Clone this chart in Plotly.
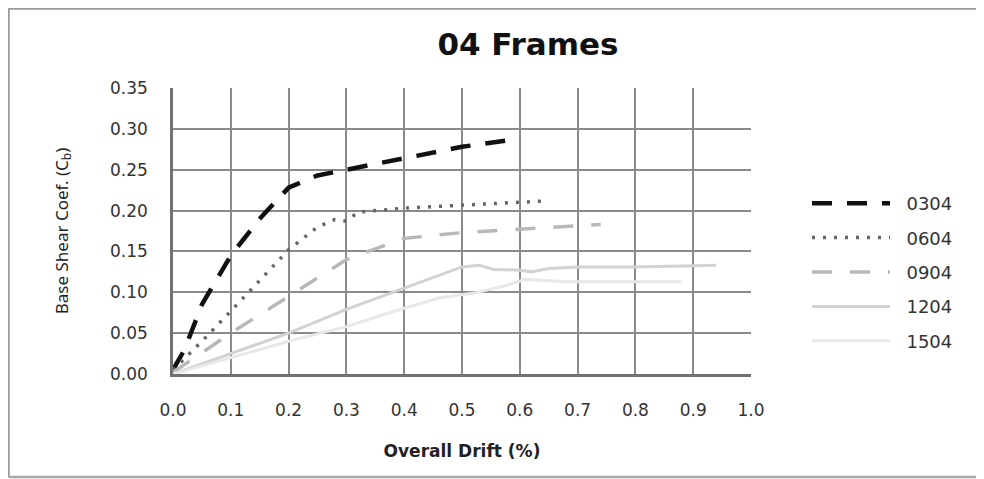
import plotly.graph_objects as go

# ---- data ----
series_names = ["0304", "0604", "0904", "1204", "1504"]

x_0304 = [0, 0.02, 0.05, 0.10, 0.15, 0.20, 0.25, 0.30, 0.40, 0.50, 0.60]
y_0304 = [0.005, 0.030, 0.085, 0.145, 0.190, 0.228, 0.243, 0.250, 0.264, 0.278, 0.288]

x_0604 = [0, 0.05, 0.10, 0.15, 0.20, 0.25, 0.28, 0.30, 0.32, 0.40, 0.50, 0.60, 0.65]
y_0604 = [0.005, 0.040, 0.077, 0.115, 0.152, 0.180, 0.189, 0.187, 0.198, 0.203, 0.207, 0.211, 0.212]

x_0904 = [0, 0.10, 0.20, 0.28, 0.30, 0.33, 0.40, 0.50, 0.60, 0.70, 0.74]
y_0904 = [0.002, 0.050, 0.095, 0.131, 0.140, 0.148, 0.166, 0.173, 0.177, 0.181, 0.183]

x_1204 = [0, 0.10, 0.20, 0.30, 0.40, 0.50, 0.53, 0.555, 0.60, 0.62, 0.65, 0.70, 0.80, 0.94]
y_1204 = [0, 0.025, 0.050, 0.079, 0.105, 0.131, 0.133, 0.128, 0.127, 0.125, 0.129, 0.131, 0.131, 0.133]

x_1504 = [0, 0.10, 0.20, 0.30, 0.37, 0.46, 0.52, 0.57, 0.61, 0.68, 0.76, 0.84, 0.88]
y_1504 = [0, 0.020, 0.040, 0.058, 0.074, 0.093, 0.099, 0.107, 0.116, 0.113, 0.113, 0.113, 0.113]

x_ticks = [0.0, 0.1, 0.2, 0.3, 0.4, 0.5, 0.6, 0.7, 0.8, 0.9, 1.0]
y_ticks = [0.00, 0.05, 0.10, 0.15, 0.20, 0.25, 0.30, 0.35]

xs = [x_0304, x_0604, x_0904, x_1204, x_1504]
ys = [y_0304, y_0604, y_0904, y_1204, y_1504]

styles = [
    dict(color="#111111", width=4.5, dash="20px,15px"),
    dict(color="#666666", width=3.5, dash="3px,8px"),
    dict(color="#b8b8b8", width=3.5, dash="20px,18px"),
    dict(color="#d2d2d2", width=3, dash="solid"),
    dict(color="#e8e8e8", width=3, dash="solid"),
]

fig = go.Figure()
for name, xv, yv, st in zip(series_names, xs, ys, styles):
    fig.add_trace(go.Scatter(x=xv, y=yv, name="\u00a0\u00a0" + name,
                             mode="lines", line=st, legendgroup=name))

# the page body adds an 8 px offset; work in page pixels and convert
OFF = 8
W, H = 984 - OFF, 479 - OFF
PL, PR, PT, PB = 173, 751, 88, 374          # plot area in page pixels
L, R, T, B = PL - OFF, W - (PR - OFF), PT - OFF, H - (PB - OFF)

def px_x(p):
    return (p - PL) / (PR - PL)

def px_y(p):
    return (PB - p) / (PB - PT)

fig.update_layout(
    width=W, height=H,
    margin=dict(l=L, r=R, t=T, b=B),
    paper_bgcolor="white", plot_bgcolor="white",
    title=dict(text="<b>04 Frames</b>", x=(528 - OFF) / W, xanchor="center",
               y=1 - (44 - OFF) / H, yanchor="middle",
               font=dict(family="DejaVu Sans", size=31, color="#111111")),
    font=dict(family="DejaVu Sans", color="#333333"),
    showlegend=True,
    legend=dict(x=px_x(807), xanchor="left", y=px_y(185), yanchor="top",
                font=dict(family="DejaVu Sans", size=18, color="#333333"),
                itemwidth=78, tracegroupgap=8, bgcolor="rgba(0,0,0,0)"),
    xaxis=dict(range=[0, 1.0], tickvals=x_ticks,
               ticktext=[f"{v:.1f}" for v in x_ticks],
               showgrid=True, gridcolor="#8a8a8a", gridwidth=2,
               zeroline=False, showline=True, linecolor="#707070", linewidth=2.5,
               mirror=False, ticks="", ticklabelstandoff=19,
               tickfont=dict(family="DejaVu Sans", size=17, color="#333333"),
               title=dict(text="<b>Overall Drift (%)</b>", standoff=26,
                          font=dict(family="DejaVu Sans", size=17, color="#222222"))),
    yaxis=dict(range=[0, 0.35], tickvals=y_ticks,
               ticktext=[f"{v:.2f}" for v in y_ticks],
               showgrid=True, gridcolor="#8a8a8a", gridwidth=2,
               zeroline=False, showline=True, linecolor="#707070", linewidth=2.5,
               ticks="", ticklabelstandoff=19,
               tickfont=dict(family="DejaVu Sans", size=17, color="#333333"),
               title=dict(text="Base Shear Coef. (C<sub>b</sub>)", standoff=38,
                          font=dict(family="Noto Sans", size=17, color="#222222"))),
)

# outer frame of the chart
fr_l, fr_r, fr_t, fr_b = 8.5, 978, 8.5, 477
fig.add_shape(type="line", xref="paper", yref="paper",
              x0=px_x(fr_l), x1=px_x(fr_r), y0=px_y(fr_t), y1=px_y(fr_t),
              line=dict(color="#9a9a9a", width=2.5))
fig.add_shape(type="line", xref="paper", yref="paper",
              x0=px_x(fr_l), x1=px_x(fr_l), y0=px_y(fr_t), y1=px_y(fr_b),
              line=dict(color="#9a9a9a", width=2.5))
fig.add_shape(type="line", xref="paper", yref="paper",
              x0=px_x(fr_l), x1=px_x(fr_r), y0=px_y(fr_b), y1=px_y(fr_b),
              line=dict(color="#a8a8a8", width=2.5))
fig.add_shape(type="line", xref="paper", yref="paper",
              x0=px_x(fr_r), x1=px_x(fr_r), y0=px_y(fr_t), y1=px_y(fr_b),
              line=dict(color="#ececec", width=2))

fig.write_html("out.html")
